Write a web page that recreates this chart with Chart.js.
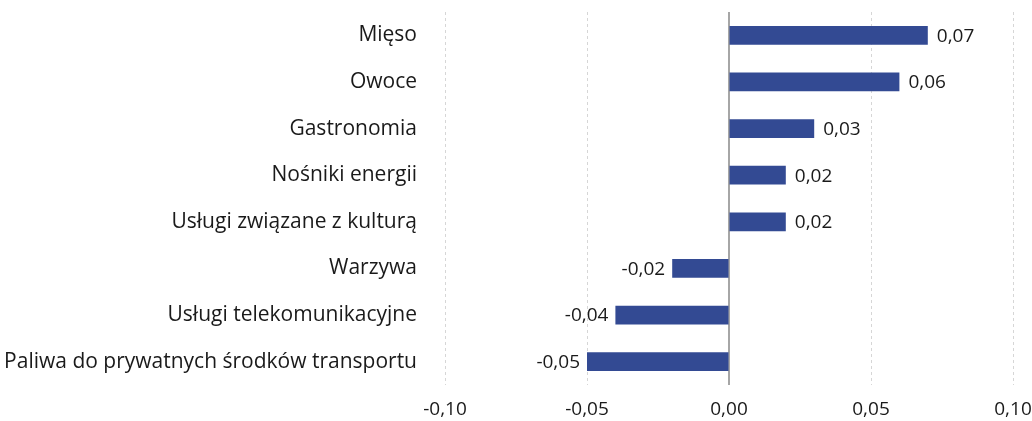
<!DOCTYPE html>
<html><head><meta charset="utf-8">
<script src="https://cdn.jsdelivr.net/npm/chart.js@4"></script>
<style>html,body{margin:0;padding:0;background:#fff}#wrap{width:1032px;height:421px;position:relative}</style>
</head><body><div id="wrap"><canvas id="c"></canvas></div>
<script>
const categories = ["Mięso","Owoce","Gastronomia","Nośniki energii","Usługi związane z kulturą","Warzywa","Usługi telekomunikacyjne","Paliwa do prywatnych środków transportu"];
const values = [0.07,0.06,0.03,0.02,0.02,-0.02,-0.04,-0.05];
const xTicks = [-0.10,-0.05,0.00,0.05,0.10];

const FONT = "'Open Sans', sans-serif";
const TXT = '#1a1a1a';
const fmt = v => v.toFixed(2).replace('.', ',');

const extras = {
  id:'extras',
  beforeDatasetsDraw(chart){
    const {ctx, chartArea, scales:{x}} = chart;
    const px = Math.round(x.getPixelForValue(0));
    ctx.save();
    ctx.strokeStyle = '#a6a6a6';
    ctx.lineWidth = 2;
    ctx.beginPath(); ctx.moveTo(px, chartArea.top); ctx.lineTo(px, chartArea.bottom); ctx.stroke();
    ctx.restore();
  },
  afterDatasetsDraw(chart){
    const {ctx} = chart;
    const meta = chart.getDatasetMeta(0);
    ctx.save();
    ctx.font = "19px " + FONT;
    ctx.fillStyle = TXT;
    ctx.textBaseline = 'middle';
    meta.data.forEach((bar,i)=>{
      const v = values[i];
      if (v >= 0){ ctx.textAlign='left'; ctx.fillText(fmt(v), bar.x + 9, bar.y + 1); }
      else { ctx.textAlign='right'; ctx.fillText(fmt(v), bar.x - 7, bar.y + 1); }
    });
    ctx.restore();
  }
};

new Chart(document.getElementById('c'), {
  type:'bar',
  data:{labels:categories, datasets:[{data:values, backgroundColor:'#334a93', barPercentage:0.8, categoryPercentage:0.5}]},
  options:{
    indexAxis:'y', responsive:true, maintainAspectRatio:false, animation:false,
    layout:{padding:{top:12,right:19,left:0,bottom:0}},
    plugins:{legend:{display:false}, tooltip:{enabled:false}},
    scales:{
      x:{min:-0.10,max:0.10,
        afterBuildTicks(s){ s.ticks = xTicks.map(v=>({value:v})); },
        afterFit(s){ s.height = 36; s.paddingLeft = 0; s.paddingRight = 0; },
        ticks:{callback:(v)=>fmt(v), color:TXT, font:{family:FONT,size:19}, padding:13, maxRotation:0},
        grid:{color:'#d6d6d6', lineWidth:1, drawTicks:false},
        border:{display:false, dash:[3,3]}
      },
      y:{
        afterFit(s){ s.width = 445; s.paddingTop = 0; s.paddingBottom = 0; },
        ticks:{color:TXT, font:{family:FONT,size:21}, padding:28},
        grid:{display:false, drawTicks:false},
        border:{display:false}
      }
    }
  },
  plugins:[extras]
});
</script></body></html>
